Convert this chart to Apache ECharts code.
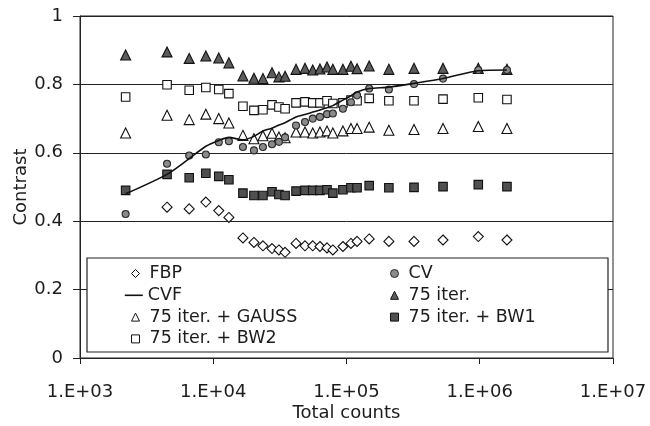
<!DOCTYPE html>
<html>
<head>
<meta charset="utf-8">
<script src="https://cdn.jsdelivr.net/npm/echarts@6/dist/echarts.min.js"></script>
<style>
  html, body { margin: 0; padding: 0; background: #fff; }
  #chart { width: 650px; height: 426px; }
</style>
</head>
<body>
<div id="chart"></div>
<script>
// Total counts (x, log scale) shared by every reconstruction method
const totalCounts = [2200, 4500, 6600, 8800, 11000, 13100, 16700, 20200, 23600, 27600,
  31100, 34600, 41800, 48800, 55800, 63200, 71400, 79000, 94000, 108000,
  120000, 148000, 208000, 321000, 530000, 975000, 1600000];

// Contrast values per method (null = not measured)
const fbp = [null, 0.441, 0.436, 0.456, 0.431, 0.411, 0.351, 0.338, 0.328, 0.320,
  0.316, 0.309, 0.335, 0.328, 0.328, 0.326, 0.322, 0.316, 0.326, 0.335,
  0.341, 0.348, 0.341, 0.341, 0.345, 0.355, 0.345];
const cv = [0.421, 0.568, 0.592, 0.595, 0.631, 0.634, 0.617, 0.607, 0.617, 0.625,
  0.632, 0.645, 0.680, 0.690, 0.700, 0.705, 0.713, 0.715, 0.729, 0.748,
  0.768, 0.788, 0.785, 0.801, 0.817, 0.842, 0.842];
const cvf = [0.480, 0.537, 0.583, 0.619, 0.636, 0.645, 0.638, 0.648, 0.664, 0.672,
  0.681, 0.688, 0.705, 0.712, 0.719, 0.725, 0.732, 0.738, 0.754, 0.767,
  0.778, 0.788, 0.792, 0.803, 0.817, 0.840, 0.842];
const iter75 = [0.886, 0.895, 0.876, 0.883, 0.877, 0.863, 0.825, 0.818, 0.817, 0.834,
  0.822, 0.824, 0.844, 0.847, 0.842, 0.845, 0.851, 0.844, 0.844, 0.853,
  0.846, 0.854, 0.844, 0.847, 0.847, 0.847, 0.844];
const iter75Gauss = [0.658, 0.710, 0.697, 0.713, 0.700, 0.687, 0.651, 0.641, 0.650, 0.657,
  0.646, 0.644, 0.661, 0.661, 0.658, 0.661, 0.664, 0.658, 0.664, 0.671,
  0.671, 0.675, 0.666, 0.668, 0.671, 0.677, 0.671];
const iter75Bw1 = [0.490, 0.537, 0.527, 0.540, 0.531, 0.521, 0.482, 0.475, 0.475, 0.486,
  0.478, 0.475, 0.488, 0.490, 0.490, 0.490, 0.492, 0.482, 0.492, 0.498,
  0.498, 0.504, 0.498, 0.499, 0.501, 0.507, 0.501];
const iter75Bw2 = [0.763, 0.799, 0.783, 0.791, 0.785, 0.773, 0.736, 0.724, 0.726, 0.740,
  0.734, 0.729, 0.746, 0.749, 0.746, 0.746, 0.752, 0.744, 0.746, 0.754,
  0.752, 0.759, 0.752, 0.752, 0.757, 0.761, 0.756];

// Axis tick values
const xTicks = [1e3, 1e4, 1e5, 1e6, 1e7];
const yTicks = [0, 0.2, 0.4, 0.6, 0.8, 1];

const FONT = 'DejaVu Sans';
const INK = '#1c1c1c';

function pairs(values) {
  const out = [];
  values.forEach((v, i) => { if (v !== null) out.push([totalCounts[i], v]); });
  return out;
}

function scatter(name, values, symbol, size, fill, border) {
  return {
    name, type: 'scatter', data: pairs(values), symbol, symbolSize: size,
    itemStyle: { color: fill, borderColor: border, borderWidth: 1.1, opacity: 1 },
    emphasis: { disabled: true }, z: 2
  };
}

const series = [
  scatter('75 iter. + GAUSS', iter75Gauss, 'triangle', 10, '#ffffff', '#111'),
  scatter('75 iter. + BW2', iter75Bw2, 'rect', 8.5, '#ffffff', '#111'),
  scatter('75 iter. + BW1', iter75Bw1, 'rect', 8.5, '#505050', '#111'),
  scatter('75 iter.', iter75, 'triangle', 10, '#5c5c5c', '#111'),
  scatter('FBP', fbp, 'diamond', 10, '#ffffff', '#111'),
  {
    name: 'CVF', type: 'line', data: pairs(cvf), symbol: 'none', smooth: 0.25,
    lineStyle: { color: '#111', width: 1.6 }, itemStyle: { color: '#111' },
    emphasis: { disabled: true }, z: 3
  },
  scatter('CV', cv, 'circle', 7, '#8a8a8a', '#2a2a2a')
];

// Legend entries: two columns, four rows inside a framed box
// [name, left edge of key, row centre, key is a line]
const legendLayout = [
  ['FBP', 131, 273.5, false], ['CV', 390, 273.5, false],
  ['CVF', 124, 295.3, true], ['75 iter.', 390, 295.3, false],
  ['75 iter. + GAUSS', 131, 317.1, false], ['75 iter. + BW1', 390, 317.1, false],
  ['75 iter. + BW2', 131, 338.9, false]
];
const legends = legendLayout.map(([name, left, cy, isLine]) => ({
  data: [name], orient: 'vertical', left, top: cy - 9, padding: 0,
  itemWidth: isLine ? 18 : 8, itemHeight: 8, itemGap: 0, selectedMode: false, z: 5,
  itemStyle: isLine ? { color: 'rgba(0,0,0,0)', borderWidth: 0 } : { borderWidth: 1 },
  lineStyle: { width: 1.6, color: '#111' },
  textStyle: {
    fontFamily: FONT, fontSize: 17.5, lineHeight: 18, color: INK,
    padding: [0, 0, 0, isLine ? 0 : 5]
  }
}));

const chart = echarts.init(document.getElementById('chart'), null, { renderer: 'canvas' });
chart.setOption({
  animation: false,
  backgroundColor: '#fff',
  textStyle: { fontFamily: FONT, color: INK },
  grid: {
    left: 80, right: 37, top: 16, bottom: 68, outerBoundsMode: 'none',
    show: true, borderColor: '#222', borderWidth: 1
  },
  xAxis: {
    type: 'log', logBase: 10, min: xTicks[0], max: xTicks[xTicks.length - 1],
    name: 'Total counts', nameLocation: 'middle', nameGap: 46, nameMoveOverlap: false,
    nameTextStyle: { fontFamily: FONT, fontSize: 18, color: INK },
    axisLine: { show: true, lineStyle: { color: '#222', width: 1 } },
    axisTick: { show: true, inside: false, length: 6, lineStyle: { color: '#222' } },
    minorTick: { show: false },
    splitLine: { show: false },
    axisLabel: {
      margin: 25, fontFamily: FONT, fontSize: 18, color: INK, showMinLabel: true, showMaxLabel: true,
      formatter: v => '1.E+' + String(Math.round(Math.log10(v))).padStart(2, '0')
    }
  },
  yAxis: {
    type: 'value', min: yTicks[0], max: yTicks[yTicks.length - 1], interval: yTicks[1] - yTicks[0],
    name: 'Contrast', nameLocation: 'middle', nameGap: 50, nameMoveOverlap: false,
    nameTextStyle: { fontFamily: FONT, fontSize: 18, color: INK },
    axisLine: { show: true, lineStyle: { color: '#222', width: 1 } },
    axisTick: { show: true, inside: false, length: 7, lineStyle: { color: '#222' } },
    splitLine: { show: true, lineStyle: { color: '#222', width: 1 } },
    axisLabel: { margin: 17, fontFamily: FONT, fontSize: 18, color: INK }
  },
  legend: legends,
  graphic: [{
    type: 'rect', z: 3, silent: true,
    shape: { x: 87, y: 258, width: 521, height: 94 },
    style: { fill: '#fff', stroke: '#222', lineWidth: 1.2 }
  }],
  series
});
</script>
</body>
</html>
